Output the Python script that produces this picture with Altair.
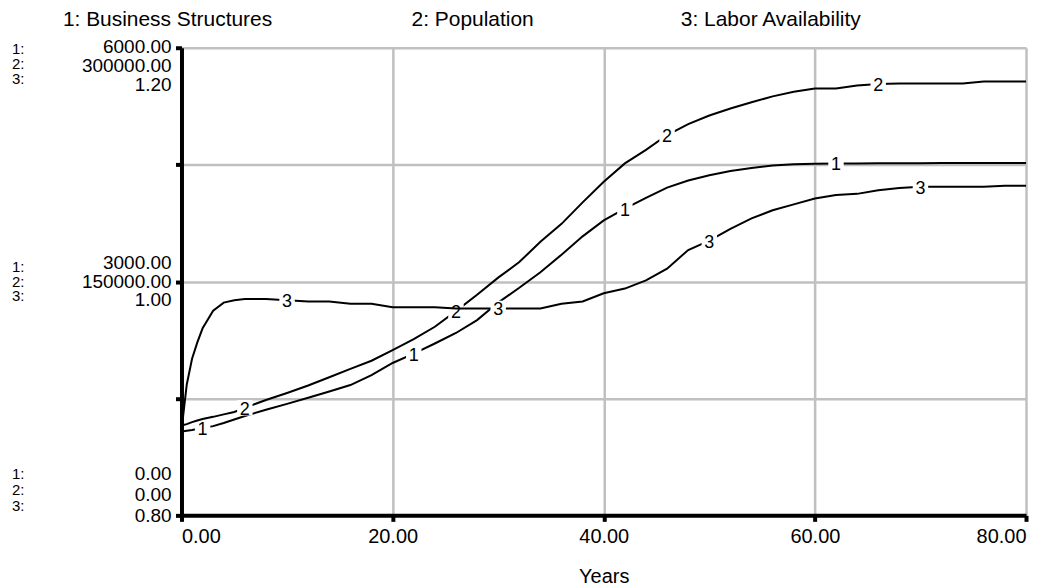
import altair as alt
import pandas as pd

FONT = "Liberation Sans"
GRID = "#c0c0c0"

# ---- data ----
years = [0, 0.5, 1, 1.5, 2, 3, 4, 5, 6, 8, 10, 12, 14, 16, 18, 20, 22, 24, 26, 28, 30,
         32, 34, 36, 38, 40, 42, 44, 46, 48, 50, 52, 54, 56, 58, 60, 62, 64, 66, 68, 70,
         72, 74, 76, 78, 80]

business = [1075, 1085, 1095, 1108, 1120, 1145, 1185, 1230, 1275, 1355, 1430, 1508, 1590,
            1672, 1800, 1955, 2075, 2205, 2340, 2505, 2730, 2920, 3120, 3345, 3580, 3785,
            3935, 4073, 4205, 4297, 4365, 4418, 4456, 4488, 4505, 4512, 4515, 4515, 4518,
            4518, 4518, 4520, 4520, 4520, 4520, 4520]

population = [57600, 58500, 59800, 60900, 61800, 63200, 64800, 66300, 69000, 74000, 78500,
              83300, 88600, 94000, 99200, 106000, 113000, 121000, 131000, 141500, 152500,
              162500, 175500, 187000, 200800, 214000, 225800, 234500, 244000, 251000,
              256500, 261000, 265000, 268800, 271800, 273800, 273800, 275700, 276800,
              277000, 277000, 277000, 277000, 278300, 278300, 278300]

labor = [0.873, 0.912, 0.934, 0.948, 0.960, 0.975, 0.982, 0.984, 0.985, 0.985, 0.984, 0.983,
         0.983, 0.981, 0.981, 0.978, 0.978, 0.978, 0.977, 0.977, 0.977, 0.977, 0.977, 0.981,
         0.983, 0.990, 0.994, 1.001, 1.011, 1.027, 1.035, 1.045, 1.054, 1.061, 1.066, 1.071,
         1.074, 1.075, 1.078, 1.080, 1.081, 1.081, 1.081, 1.081, 1.082, 1.082]

names = ["Business Structures", "Population", "Labor Availability"]
domains = [[0, 6000], [0, 300000], [0.8, 1.2]]
tick_bs = [0, 3000, 6000]
tick_pop = [0, 150000, 300000]
tick_la = [0.80, 1.00, 1.20]
x_ticks = [0, 20, 40, 60, 80]
label_years = [[2, 22, 42, 62], [6, 26, 46, 66], [10, 30, 50, 70]]

W, H = 847, 469

x_enc = alt.X(
    "t:Q",
    scale=alt.Scale(domain=[0, 80], nice=False, zero=False),
    axis=alt.Axis(values=x_ticks, format=".2f", title="Years", grid=True,
                  gridColor=GRID, gridWidth=2.5, domainColor="black", domainWidth=4,
                  tickColor="black", tickWidth=4, tickSize=6, labelFont=FONT,
                  labelFontSize=20, labelColor="black", labelFlush=True, labelPadding=5,
                  titleFont=FONT, titleFontSize=20, titleFontWeight="normal",
                  titleColor="black", titlePadding=20),
)

y_axis1 = alt.Axis(values=[domains[0][1] * k / 4 for k in range(5)], labels=False,
                   grid=True, gridColor=GRID, gridWidth=2.5, domainColor="black",
                   domainWidth=4, tickColor="black", tickWidth=4, tickSize=6, title=None)


def y_enc(i):
    return alt.Y("v:Q", scale=alt.Scale(domain=domains[i], nice=False, zero=False),
                 axis=y_axis1 if i == 0 else None)


def series_chart(i, values):
    df = pd.DataFrame({"t": years, "v": values})
    lab = df[df["t"].isin(label_years[i])].assign(n=str(i + 1))
    line = alt.Chart(df).mark_line(color="black", strokeWidth=2).encode(x=x_enc, y=y_enc(i))
    box = alt.Chart(lab).mark_point(shape="square", size=240, filled=True, color="white",
                                    opacity=1, strokeWidth=0).encode(x=x_enc, y=y_enc(i))
    txt = alt.Chart(lab).mark_text(font=FONT, fontSize=18, color="black", dy=2).encode(
        x=x_enc, y=y_enc(i), text="n:N")
    layers = [line, box, txt]
    if i == 0:
        # multi-scale tick labels on the left: (value lineHeight, value dy, prefix lineHeight, prefix dy)
        styles = [(21, -41, 16, -41), (19, -19, 15, -15), (19, -1, 15, 1)]
        for k, (lh_v, dy_v, lh_p, dy_p) in enumerate(styles):
            txtv = "\n".join(f"{arr[k]:.2f}" for arr in (tick_bs, tick_pop, tick_la))
            d = pd.DataFrame({"v": [tick_bs[k]], "txt": [txtv],
                              "pre": ["\n".join(f"{j + 1}:" for j in range(3))]})
            layers.append(alt.Chart(d).mark_text(
                font=FONT, fontSize=19, lineHeight=lh_v, align="right", baseline="middle",
                dy=dy_v, lineBreak="\n", color="black").encode(
                x=alt.value(-10), y=y_enc(0), text="txt:N"))
            layers.append(alt.Chart(d).mark_text(
                font=FONT, fontSize=15, lineHeight=lh_p, align="left", baseline="middle",
                dy=dy_p, lineBreak="\n", color="black").encode(
                x=alt.value(-170), y=y_enc(0), text="pre:N"))
    return alt.layer(*layers)


series = [series_chart(0, business), series_chart(1, population), series_chart(2, labor)]

header_x = [-14, 292, 591]
headers = []
for i, n in enumerate(names):
    headers.append(alt.Chart(pd.DataFrame({"txt": [f"{i + 1}: {n}"]})).mark_text(
        font=FONT, fontSize=21, color="black", align="center", baseline="middle").encode(
        x=alt.value(header_x[i]), y=alt.value(-28), text="txt:N"))

chart = alt.layer(*series, *headers).resolve_scale(y="independent").properties(
    width=W, height=H, padding={"left": 4, "top": 0, "right": 0, "bottom": 0},
    background="white",
).configure_view(stroke=None)

chart.save("out.html", embed_options={"renderer": "svg", "actions": False})
